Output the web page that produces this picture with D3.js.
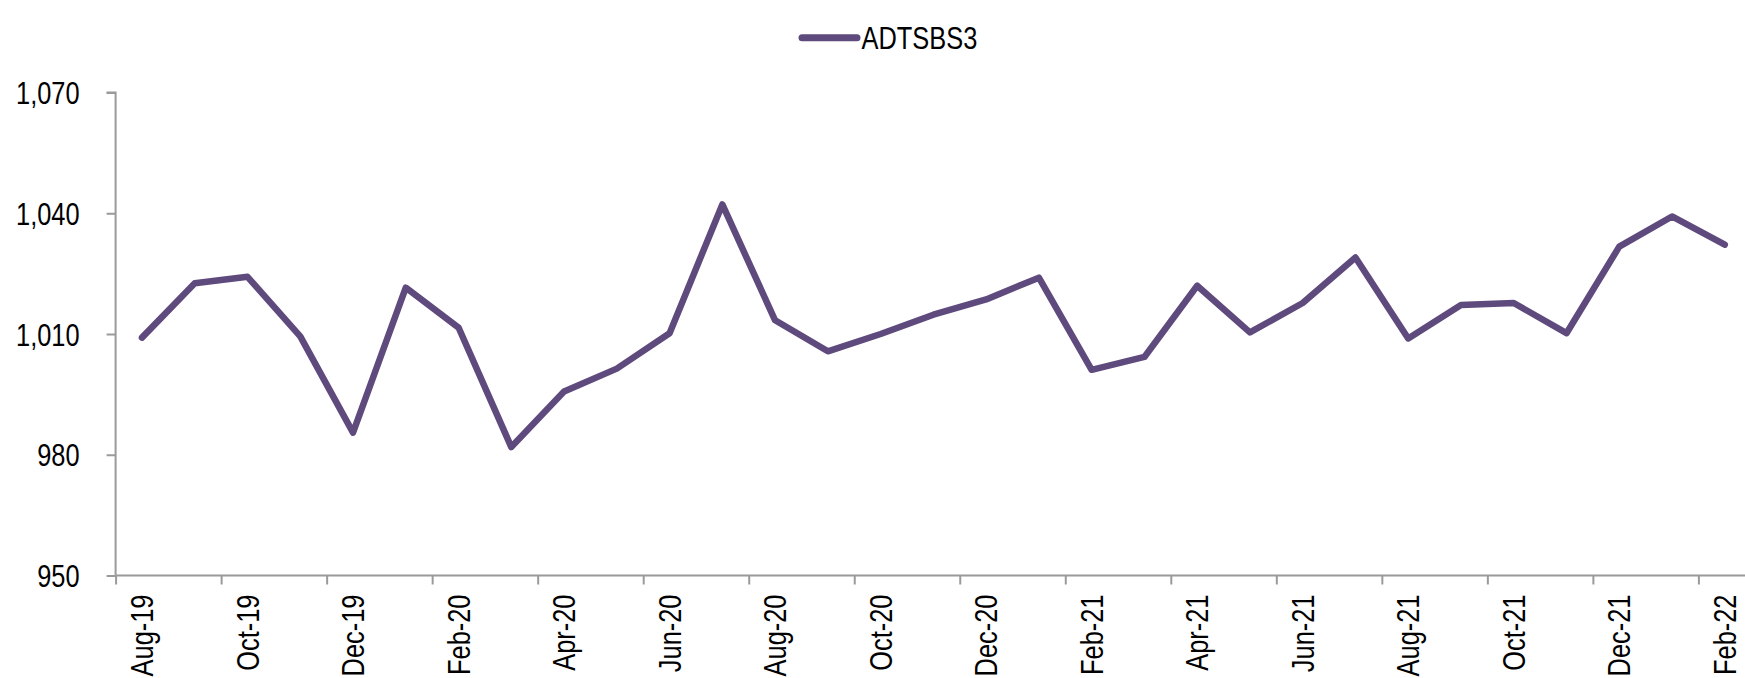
<!DOCTYPE html>
<html>
<head>
<meta charset="utf-8">
<script src="https://cdn.jsdelivr.net/npm/d3@7"></script>
<style>
  html, body { margin: 0; padding: 0; background: #ffffff; overflow: hidden; }
  svg { display: block; }
  text { font-family: "Liberation Sans", Arial, sans-serif; fill: #000; }
</style>
</head>
<body>
<svg id="chart" width="1745" height="678"></svg>
<script>
// ---- data ----
const months = ["Aug-19","Sep-19","Oct-19","Nov-19","Dec-19","Jan-20","Feb-20","Mar-20","Apr-20","May-20",
  "Jun-20","Jul-20","Aug-20","Sep-20","Oct-20","Nov-20","Dec-20","Jan-21","Feb-21","Mar-21",
  "Apr-21","May-21","Jun-21","Jul-21","Aug-21","Sep-21","Oct-21","Nov-21","Dec-21","Jan-22","Feb-22"];
const seriesName = "ADTSBS3";
const values = [1009.1, 1022.6, 1024.2, 1009.4, 985.5, 1021.5, 1011.6, 981.9, 995.7, 1001.4,
  1010.2, 1042.2, 1013.4, 1005.7, 1010.0, 1014.8, 1018.6, 1024.0, 1001.1, 1004.3,
  1022.0, 1010.4, 1017.7, 1029.0, 1008.9, 1017.2, 1017.7, 1010.2, 1031.7, 1039.2, 1032.2];
const yTicks = [950, 980, 1010, 1040, 1070];
const labelMonths = months.filter((m, i) => i % 2 === 0);

// ---- layout ----
const svg = d3.select("#chart");
const plotLeft = 115.6, bandW = 52.76;
const plotTop = 92.5, plotBottom = 575.5;
const lineColor = "#5F4A7D";
const axisColor = "#9A9A9A";
const fontSize = 31;
const narrow = 0.82; // emulate a narrow sans face
const fontFam = '"Liberation Sans", Arial, sans-serif';

const x = d3.scaleBand().domain(months).range([plotLeft, plotLeft + months.length * bandW]).padding(0);
const xEdge = d3.scaleLinear().domain([0, months.length]).range([plotLeft, plotLeft + months.length * bandW]);
const y = d3.scaleLinear().domain([950, 1070]).range([plotBottom, plotTop]);

// y axis
const yAxis = svg.append("g").attr("transform", `translate(${plotLeft},0)`)
  .call(d3.axisLeft(y).tickValues(yTicks).tickSize(9).tickPadding(27).tickFormat(d3.format(",")));
yAxis.select(".domain").attr("stroke", axisColor).attr("stroke-width", 2).attr("d", `M-9,${plotTop}H0V${plotBottom}`);
yAxis.selectAll(".tick line").attr("stroke", axisColor).attr("stroke-width", 2);
yAxis.selectAll(".tick text")
  .style("font-size", fontSize + "px").style("font-family", fontFam).attr("fill", "#000")
  .attr("x", 0).attr("dy", "0.36em")
  .attr("transform", `translate(-36,0) scale(${narrow},1)`);

// x axis ticks (at band boundaries every 2 months)
const xTickAxis = svg.append("g").attr("transform", `translate(0,${plotBottom})`)
  .call(d3.axisBottom(xEdge).tickValues(d3.range(0, months.length, 2)).tickSize(9).tickFormat(""));
xTickAxis.select(".domain").attr("stroke", axisColor).attr("stroke-width", 2)
  .attr("d", `M${plotLeft},0H1745`);
xTickAxis.selectAll(".tick line").attr("stroke", axisColor).attr("stroke-width", 2);

// x axis labels (centered in bands, rotated)
const xLabelAxis = svg.append("g").attr("transform", `translate(0,${plotBottom})`)
  .call(d3.axisBottom(x).tickValues(labelMonths).tickSize(0).tickPadding(0));
xLabelAxis.select(".domain").remove();
xLabelAxis.selectAll(".tick text")
  .style("font-size", fontSize + "px")
  .style("font-family", fontFam)
  .attr("fill", "#000")
  .attr("text-anchor", "end")
  .attr("transform", `translate(0,19) rotate(-90) scale(${narrow},1)`)
  .attr("x", 0).attr("y", 0).attr("dy", "0.36em");

// line
const line = d3.line()
  .x((d, i) => x(months[i]) + x.bandwidth() / 2)
  .y(d => y(d));
svg.append("path").datum(values)
  .attr("d", line)
  .attr("fill", "none")
  .attr("stroke", lineColor)
  .attr("stroke-width", 6.5)
  .attr("stroke-linejoin", "round")
  .attr("stroke-linecap", "round");

// legend
const lg = svg.append("g");
lg.append("line").attr("x1", 802).attr("x2", 857).attr("y1", 37.7).attr("y2", 37.7)
  .attr("stroke", lineColor).attr("stroke-width", 7).attr("stroke-linecap", "round");
lg.append("text").attr("transform", `translate(861.5,49.3) scale(${narrow},1)`)
  .style("font-size", fontSize + "px").style("font-family", fontFam).text(seriesName);
</script>
</body>
</html>
